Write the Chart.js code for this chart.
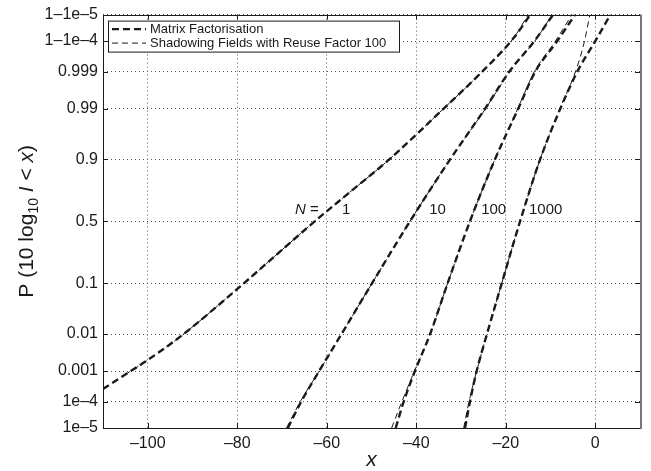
<!DOCTYPE html>
<html>
<head>
<meta charset="utf-8">
<script src="https://cdn.jsdelivr.net/npm/chart.js@4.4.1/dist/chart.umd.min.js"></script>
<style>
  html, body { margin: 0; padding: 0; background: #fff; }
  #wrap { width: 651px; height: 471px; }
</style>
</head>
<body>
<div id="wrap"><canvas id="cdfChart"></canvas></div>
<script>
// probability (normal-probit) axis
const yTickProbs = [1e-5, 1e-4, 0.001, 0.01, 0.1, 0.5, 0.9, 0.99, 0.999, 1 - 1e-4, 1 - 1e-5];
const yTickLabels = ['1e–5', '1e–4', '0.001', '0.01', '0.1', '0.5', '0.9', '0.99', '0.999', '1–1e–4', '1–1e–5'];
const xTicks = [-100, -80, -60, -40, -20, 0];

// probability levels shared by most curves
const pLevels = [1e-5, 1e-4, 0.001, 0.01, 0.1, 0.5, 0.9, 0.99, 0.999, 1 - 1e-4, 1 - 1e-5];

// N = 1
const n1P   = [2.7e-4, 7.7e-4, 0.0021, 0.0096, 0.08, 0.236, 0.493, 0.737, 0.901, 0.9897, 0.99885, 0.99992, 1 - 1e-5];
const mfN1X = [-110, -105.1, -100, -92.2, -80.1, -71.6, -62.9, -54.4, -45.9, -34, -25.7, -18.3, -14.5];
const sfN1X = [null, -105.1, -100, -92.2, -80.1, -71.6, -62.9, -54.4, -45.9, -34, -25.7, -18.3, -15];

// N = 10, 100, 1000 at pLevels
const mfN10X   = [-68.7, -65.7, -61.7, -56.7, -49.9, -41.4, -32.4, -24.6, -19.2, -13.6, -9.4];
const sfN10X   = [-69, -65.9, -61.7, -56.7, -49.9, -41.4, -32.4, -24.5, -19.1, -13.5, -9.6];
const mfN100X  = [-44.6, -42.8, -40.3, -36.9, -33, -28, -22.4, -17.2, -13.4, -8.5, -4.5];
const sfN100X  = [-45.5, -43.2, -40.4, -36.9, -33, -28, -22.4, -17.3, -13.6, -8.9, -5.2];
const mfN1000X = [-29.1, -28, -26.5, -24.2, -20.9, -16.8, -12.3, -7.8, -4, 0, 3.4];
const sfN1000X = [-29.4, -28.2, -26.5, -24.2, -20.9, -16.8, -12.3, -7.9, -4.4, -2.4, -1.2];

const curveLabels = [
  { text: '1', x: -56.6, p: 0.59 },
  { text: '10', x: -37.1, p: 0.59 },
  { text: '100', x: -25.5, p: 0.59 },
  { text: '1000', x: -14.8, p: 0.59 }
];
const nLabel = { x: -67.1, p: 0.59 };

const FONT = '"Liberation Sans", Arial, Helvetica, sans-serif';
const INK = '#1a1a1a';

// inverse normal CDF (Acklam)
function probit(p) {
  const a = [-3.969683028665376e+01, 2.209460984245205e+02, -2.759285104469687e+02, 1.383577518672690e+02, -3.066479806614716e+01, 2.506628277459239e+00];
  const b = [-5.447609879822406e+01, 1.615858368580409e+02, -1.556989798598866e+02, 6.680131188771972e+01, -1.328068155288572e+01];
  const c = [-7.784894002430293e-03, -3.223964580411365e-01, -2.400758277161838e+00, -2.549732539343734e+00, 4.374664141464968e+00, 2.938163982698783e+00];
  const d = [7.784695709041462e-03, 3.224671290700398e-01, 2.445134137142996e+00, 3.754408661907416e+00];
  const pl = 0.02425;
  let q, r;
  if (p < pl) {
    q = Math.sqrt(-2 * Math.log(p));
    return (((((c[0]*q+c[1])*q+c[2])*q+c[3])*q+c[4])*q+c[5]) / ((((d[0]*q+d[1])*q+d[2])*q+d[3])*q+1);
  }
  if (p > 1 - pl) {
    q = Math.sqrt(-2 * Math.log(1 - p));
    return -(((((c[0]*q+c[1])*q+c[2])*q+c[3])*q+c[4])*q+c[5]) / ((((d[0]*q+d[1])*q+d[2])*q+d[3])*q+1);
  }
  q = p - 0.5; r = q * q;
  return (((((a[0]*r+a[1])*r+a[2])*r+a[3])*r+a[4])*r+a[5])*q / (((((b[0]*r+b[1])*r+b[2])*r+b[3])*r+b[4])*r+1);
}

function pts(xs, ps) {
  const out = [];
  xs.forEach((x, i) => { if (x !== null) out.push({ x: x, y: probit(ps[i]) }); });
  return out;
}

function mf(label, xs, ps) {
  return { label: label, data: pts(xs, ps), borderColor: INK, borderWidth: 2.4, borderDash: [7, 4],
           pointRadius: 0, fill: false, cubicInterpolationMode: 'monotone' };
}
function sf(label, xs, ps) {
  return { label: label, data: pts(xs, ps), borderColor: INK, borderWidth: 1, borderDash: [6, 4],
           pointRadius: 0, fill: false, cubicInterpolationMode: 'monotone' };
}

const datasets = [
  mf('Matrix Factorisation', mfN1X, n1P),
  sf('Shadowing Fields with Reuse Factor 100', sfN1X, n1P),
  mf('', mfN10X, pLevels), sf('', sfN10X, pLevels),
  mf('', mfN100X, pLevels), sf('', sfN100X, pLevels),
  mf('', mfN1000X, pLevels), sf('', sfN1000X, pLevels)
];

const decorations = {
  id: 'decorations',
  afterDraw(chart) {
    const ctx = chart.ctx;
    const a = chart.chartArea;
    const xs = chart.scales.x, ys = chart.scales.y;
    ctx.save();

    // axes box
    ctx.strokeStyle = INK;
    ctx.lineWidth = 1;
    ctx.strokeRect(Math.round(a.left) + 0.5, Math.round(a.top) + 0.5, Math.round(a.right - a.left), Math.round(a.bottom - a.top));
    ctx.strokeStyle = '#777';
    ctx.lineWidth = 2;
    ctx.beginPath();
    ctx.moveTo(Math.round(a.right) + 1, a.top); ctx.lineTo(Math.round(a.right) + 1, a.bottom + 1);
    ctx.stroke();

    // inward ticks on all four sides
    ctx.strokeStyle = INK;
    ctx.lineWidth = 1;
    ctx.beginPath();
    xTicks.forEach(v => {
      const px = Math.round(xs.getPixelForValue(v)) + 0.5;
      ctx.moveTo(px, a.bottom); ctx.lineTo(px, a.bottom - 5);
      ctx.moveTo(px, a.top); ctx.lineTo(px, a.top + 5);
    });
    yTickProbs.forEach(p => {
      const py = Math.round(ys.getPixelForValue(probit(p))) + 0.5;
      ctx.moveTo(a.left, py); ctx.lineTo(a.left + 5, py);
      ctx.moveTo(a.right, py); ctx.lineTo(a.right - 5, py);
    });
    ctx.stroke();

    // curve labels
    ctx.fillStyle = INK;
    ctx.textBaseline = 'middle';
    ctx.textAlign = 'left';
    ctx.font = '15px ' + FONT;
    curveLabels.forEach(l => {
      ctx.fillText(l.text, xs.getPixelForValue(l.x), ys.getPixelForValue(probit(l.p)));
    });
    let nx = xs.getPixelForValue(nLabel.x);
    const ny = ys.getPixelForValue(probit(nLabel.p));
    ctx.font = 'italic 15px ' + FONT;
    ctx.fillText('N', nx, ny);
    nx += ctx.measureText('N').width;
    ctx.font = '15px ' + FONT;
    ctx.fillText(' =', nx, ny);

    // legend
    const lx = a.left + 5, ly = a.top + 6, lw = 291, lh = 31;
    ctx.fillStyle = '#fff';
    ctx.fillRect(lx, ly, lw, lh);
    ctx.strokeStyle = INK;
    ctx.lineWidth = 1;
    ctx.strokeRect(lx + 0.5, ly + 0.5, lw, lh);
    ctx.font = '13px ' + FONT;
    [0, 1].forEach((di, row) => {
      const ds = chart.data.datasets[di];
      const cy = ly + 8.5 + row * 14;
      ctx.save();
      ctx.strokeStyle = ds.borderColor;
      ctx.lineWidth = ds.borderWidth;
      ctx.setLineDash(ds.borderDash);
      ctx.beginPath();
      ctx.moveTo(lx + 4, cy); ctx.lineTo(lx + 38, cy);
      ctx.stroke();
      ctx.restore();
      ctx.fillStyle = INK;
      ctx.fillText(ds.label, lx + 42, cy + 0.5);
    });

    // x title
    ctx.font = 'italic 21px ' + FONT;
    ctx.textAlign = 'center';
    ctx.textBaseline = 'alphabetic';
    ctx.fillText('x', (a.left + a.right) / 2, 466);

    // y title: P (10 log10 I < x)
    const parts = [
      { t: 'P (10 log', f: '21px ' + FONT, dy: 0 },
      { t: '10', f: '14px ' + FONT, dy: 5 },
      { t: ' ', f: '21px ' + FONT, dy: 0 },
      { t: 'I', f: 'italic 21px ' + FONT, dy: 0 },
      { t: ' < ', f: '21px ' + FONT, dy: 0 },
      { t: 'x', f: 'italic 21px ' + FONT, dy: 0 },
      { t: ')', f: '21px ' + FONT, dy: 0 }
    ];
    let total = 0;
    parts.forEach(s => { ctx.font = s.f; s.w = ctx.measureText(s.t).width; total += s.w; });
    ctx.translate(33, (a.top + a.bottom) / 2);
    ctx.rotate(-Math.PI / 2);
    ctx.textAlign = 'left';
    let tx = -total / 2;
    parts.forEach(s => { ctx.font = s.f; ctx.fillText(s.t, tx, s.dy); tx += s.w; });

    ctx.restore();
  }
};

new Chart(document.getElementById('cdfChart'), {
  type: 'line',
  data: { datasets: datasets },
  options: {
    responsive: true,
    maintainAspectRatio: false,
    animation: false,
    layout: { padding: { left: 0, right: 11, top: 10, bottom: 0 } },
    plugins: { legend: { display: false }, tooltip: { enabled: false } },
    scales: {
      x: {
        type: 'linear',
        min: -110,
        max: 10,
        afterBuildTicks: s => { s.ticks = xTicks.map(v => ({ value: v })); },
        afterFit: s => { s.height = 43; },
        grid: { color: '#555', lineWidth: 1, drawTicks: false },
        border: { display: false, dash: [1, 3] },
        ticks: {
          color: INK, padding: 6, maxRotation: 0, autoSkip: false,
          font: { family: FONT, size: 16 },
          callback: v => v < 0 ? '–' + Math.abs(v) : String(v)
        }
      },
      y: {
        type: 'linear',
        min: probit(1e-5),
        max: probit(1 - 1e-5),
        afterBuildTicks: s => { s.ticks = yTickProbs.map(p => ({ value: probit(p) })); },
        afterFit: s => { s.width = 103; },
        grid: { color: '#555', lineWidth: 1, drawTicks: false },
        border: { display: false, dash: [1, 3] },
        ticks: {
          color: INK, padding: 5, autoSkip: false,
          font: { family: FONT, size: 16 },
          callback: (v, i) => yTickLabels[i]
        }
      }
    }
  },
  plugins: [decorations]
});
</script>
</body>
</html>
